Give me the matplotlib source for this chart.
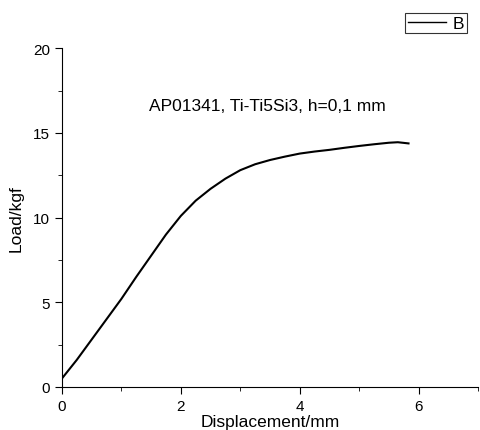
import numpy as np
import matplotlib.pyplot as plt
from matplotlib.ticker import MultipleLocator

plt.rcParams['font.family'] = ['Liberation Sans', 'DejaVu Sans']

# load-displacement curve
displacement = [0.0, 0.25, 0.5, 0.75, 1.0, 1.25, 1.5, 1.75, 2.0, 2.25, 2.5, 2.75,
                3.0, 3.25, 3.5, 3.75, 4.0, 4.25, 4.5, 4.75, 5.0, 5.25, 5.5, 5.65, 5.83]
load = [0.5, 1.6, 2.8, 4.0, 5.2, 6.5, 7.75, 9.0, 10.1, 11.0, 11.7, 12.3,
        12.8, 13.15, 13.4, 13.6, 13.78, 13.9, 14.0, 14.12, 14.23, 14.33, 14.42, 14.45, 14.38]

fig = plt.figure(figsize=(4.8, 4.31), dpi=100)
ax = fig.add_axes([0.129, 0.0998, 0.867, 0.786])

ax.plot(displacement, load, color='black', linewidth=1.5, label='B')

ax.set_xlim(0, 7)
ax.set_ylim(0, 20)
ax.xaxis.set_major_locator(MultipleLocator(2))
ax.xaxis.set_minor_locator(MultipleLocator(1))
ax.yaxis.set_major_locator(MultipleLocator(5))
ax.yaxis.set_minor_locator(MultipleLocator(2.5))
ax.tick_params(which='both', direction='out', labelsize=11)
ax.tick_params(which='major', length=5)
ax.tick_params(which='minor', length=3)
ax.spines['top'].set_visible(False)
ax.spines['right'].set_visible(False)

ax.set_xlabel('Displacement/mm', fontsize=12.5, labelpad=1)
ax.set_ylabel('Load/kgf', fontsize=12.5, labelpad=7)
ax.text(3.45, 16.6, 'AP01341, Ti-Ti5Si3, h=0,1 mm', fontsize=12.5, ha='center', va='center')

leg = ax.legend(loc='center', bbox_to_anchor=(0.899, 1.074), frameon=True, fancybox=False,
                edgecolor='black', fontsize=12.5, handlelength=2.2, borderpad=0.15,
                handletextpad=0.4, borderaxespad=0)
leg.get_frame().set_linewidth(0.8)
for line in leg.get_lines():
    line.set_linewidth(1.0)

fig.savefig('out.png', dpi=100)
